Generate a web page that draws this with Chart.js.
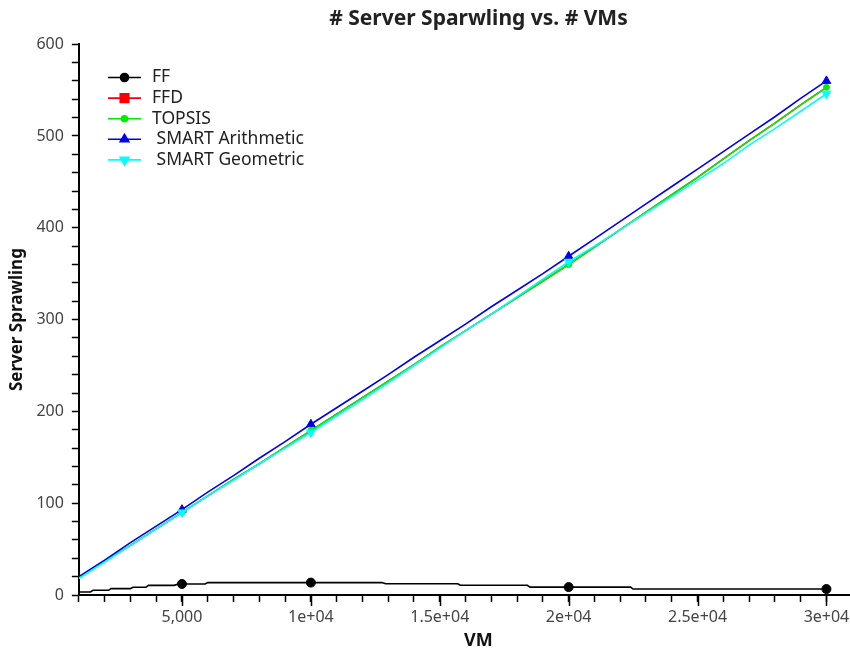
<!DOCTYPE html>
<html><head><meta charset="utf-8">
<script src="https://cdn.jsdelivr.net/npm/chart.js@4.4.1/dist/chart.umd.min.js"></script>
<style>
html,body{margin:0;padding:0;overflow:hidden;background:#fff;}
#wrap{width:900px;height:650px;position:relative;}
</style></head><body>
<div id="wrap"><canvas id="c"></canvas></div>
<script>
// ---- data ----
const vms = [1000,2000,3000,4000,5000,6000,7000,8000,9000,10000,11000,12000,13000,14000,15000,16000,17000,18000,19000,20000,21000,22000,23000,24000,25000,26000,27000,28000,29000,30000];
const topsis = [19,37,54,72,90,108,126,143,161,179,197,215,233,251,270,288,306,324,342,360,379,398,417,436,455,475,495,514,534,553];
const ffd    = [19,37,54,72,90,108,126,143,161,179,197,215,233,251,270,288,306,324,342,360,379,398,417,436,455,475,495,514,534,553];
const smartA = [20,38,57,75,93,112,130,149,167,186,204,222,240,259,277,295,314,332,350,369,388,407,426,445,464,483,502,521,541,560];
const smartG = [18,36,54,72,90,108,125,143,160,177,195,213,231,250,269,288,306,325,344,363,380,398,416,434,452,470,490,508,527,546];
const ffVM  = [1000,1450,1550,2150,2250,3000,3100,3600,3700,4700,4850,5000,5900,6000,10000,12750,12900,15700,15800,18400,18500,20000,22400,22500,30000];
const ffVal = [3.3,3.3,5.1,5.1,6.9,6.9,8.4,8.4,10.5,10.5,12,12,12,13.5,13.5,13.5,12.2,12.2,10.6,10.6,8.6,8.6,8.6,6.5,6.5];
const markerVMs = [5000,10000,20000,30000];
const xTickValues = [5000,10000,15000,20000,25000,30000];
const xTickLabels = ['5,000','1e+04','1.5e+04','2e+04','2.5e+04','3e+04'];
const seriesNames = ['FF','FFD','TOPSIS',' SMART Arithmetic',' SMART Geometric'];

const FONT = "'Noto Sans', 'Open Sans', sans-serif";
const toXY = (xs, ys) => xs.map((x, i) => ({x: x, y: ys[i]}));
const markR = r => (ctx => (ctx.raw && markerVMs.includes(ctx.raw.x)) ? r : 0);

const styles = [
  {color:'#000000', pointStyle:'circle', radius:4.5, rotation:0, legendR:4},
  {color:'#ff0000', pointStyle:'rect', radius:6, rotation:0, legendR:6},
  {color:'#00ee00', pointStyle:'circle', radius:3, rotation:0, legendR:3},
  {color:'#0000ee', pointStyle:'triangle', radius:5, rotation:0, legendR:5},
  {color:'#00ffff', pointStyle:'triangle', radius:5, rotation:180, legendR:5}
];

const datasets = [
  {label:seriesNames[0], data:toXY(ffVM, ffVal), order:0, pointRadius:markR(4.5)},
  {label:seriesNames[1], data:toXY(vms, ffd), order:4, pointRadius:0},
  {label:seriesNames[2], data:toXY(vms, topsis), order:3, pointRadius:markR(3)},
  {label:seriesNames[3], data:toXY(vms, smartA), order:2, pointRadius:markR(5)},
  {label:seriesNames[4], data:toXY(vms, smartG), order:1, pointRadius:markR(5)}
].map((d, i) => Object.assign(d, {
  borderColor: styles[i].color, backgroundColor: styles[i].color,
  pointBackgroundColor: styles[i].color, pointBorderColor: styles[i].color,
  pointStyle: styles[i].pointStyle, pointRotation: styles[i].rotation,
  pointBorderWidth: 1, borderWidth: 1.6, tension: 0, fill: false, pointHoverRadius: 0
}));

const legendPlugin = {
  id: 'insideLegend',
  afterDraw(chart) {
    const ctx = chart.ctx;
    const x0 = 108, x1 = 141, y0 = 77.5, dy = 20.6;
    ctx.save();
    seriesNames.forEach((name, i) => {
      const y = y0 + i * dy, s = styles[i];
      ctx.strokeStyle = s.color; ctx.lineWidth = 1.6;
      ctx.beginPath(); ctx.moveTo(x0, y); ctx.lineTo(x1, y); ctx.stroke();
      ctx.fillStyle = s.color;
      Chart.helpers.drawPoint(ctx, {pointStyle: s.pointStyle, rotation: s.rotation, radius: s.legendR, borderWidth: 1}, (x0 + x1) / 2, y);
      ctx.fillStyle = '#222';
      ctx.font = "17.5px " + FONT;
      ctx.textBaseline = 'middle'; ctx.textAlign = 'left';
      ctx.fillText(name, 152, y);
    });
    ctx.restore();
  }
};

const majorTickPlugin = {
  id: 'majorTicks',
  afterDraw(chart) {
    const xs = chart.scales.x, ctx = chart.ctx;
    ctx.save();
    ctx.strokeStyle = '#000'; ctx.lineWidth = 1.5;
    xTickValues.forEach(v => {
      const px = Math.round(xs.getPixelForValue(v)) + 0.5;
      ctx.beginPath(); ctx.moveTo(px, xs.top); ctx.lineTo(px, xs.top + 11); ctx.stroke();
    });
    ctx.restore();
  }
};

new Chart(document.getElementById('c'), {
  type: 'line',
  data: {datasets: datasets},
  plugins: [legendPlugin, majorTickPlugin],
  options: {
    responsive: true, maintainAspectRatio: false, animation: false,
    layout: {padding: {left: 4, right: 22, top: 0, bottom: 0}},
    plugins: {
      legend: {display: false},
      tooltip: {enabled: false},
      title: {display: true, fullSize: false, text: '# Server Sparwling vs. # VMs', color: '#222',
              font: {family: FONT, size: 21, weight: 'bold'}, padding: {top: 6, bottom: 13}}
    },
    scales: {
      x: {type: 'linear', min: 1000, max: 32000,
          ticks: {stepSize: 1000, autoSkip: false, maxRotation: 0, color: '#444', padding: 7,
                  font: {family: FONT, size: 16, lineHeight: 1.0},
                  callback: v => { const k = xTickValues.indexOf(v); return k >= 0 ? xTickLabels[k] : ''; }},
          grid: {drawOnChartArea: false, drawTicks: true, tickLength: 7, tickColor: '#000', tickWidth: 1.5, color: '#000'},
          border: {display: true, color: '#000', width: 2},
          title: {display: true, text: 'VM', color: '#111', font: {family: FONT, size: 18, weight: 'bold', lineHeight: 1.0}, padding: {top: 0, bottom: 0}}},
      y: {min: 0, max: 600,
          ticks: {stepSize: 20, autoSkip: false, color: '#444', padding: 8,
                  font: {family: FONT, size: 16},
                  callback: v => (v % 100 === 0 ? String(v) : '')},
          grid: {drawOnChartArea: false, drawTicks: true, tickLength: 7, tickColor: '#000', tickWidth: 1.5, color: '#000'},
          border: {display: true, color: '#000', width: 2},
          title: {display: true, text: 'Server Sprawling', color: '#111', font: {family: FONT, size: 17, weight: 'bold'}, padding: {top: 3, bottom: 1}}}
    }
  }
});
</script>
</body></html>
